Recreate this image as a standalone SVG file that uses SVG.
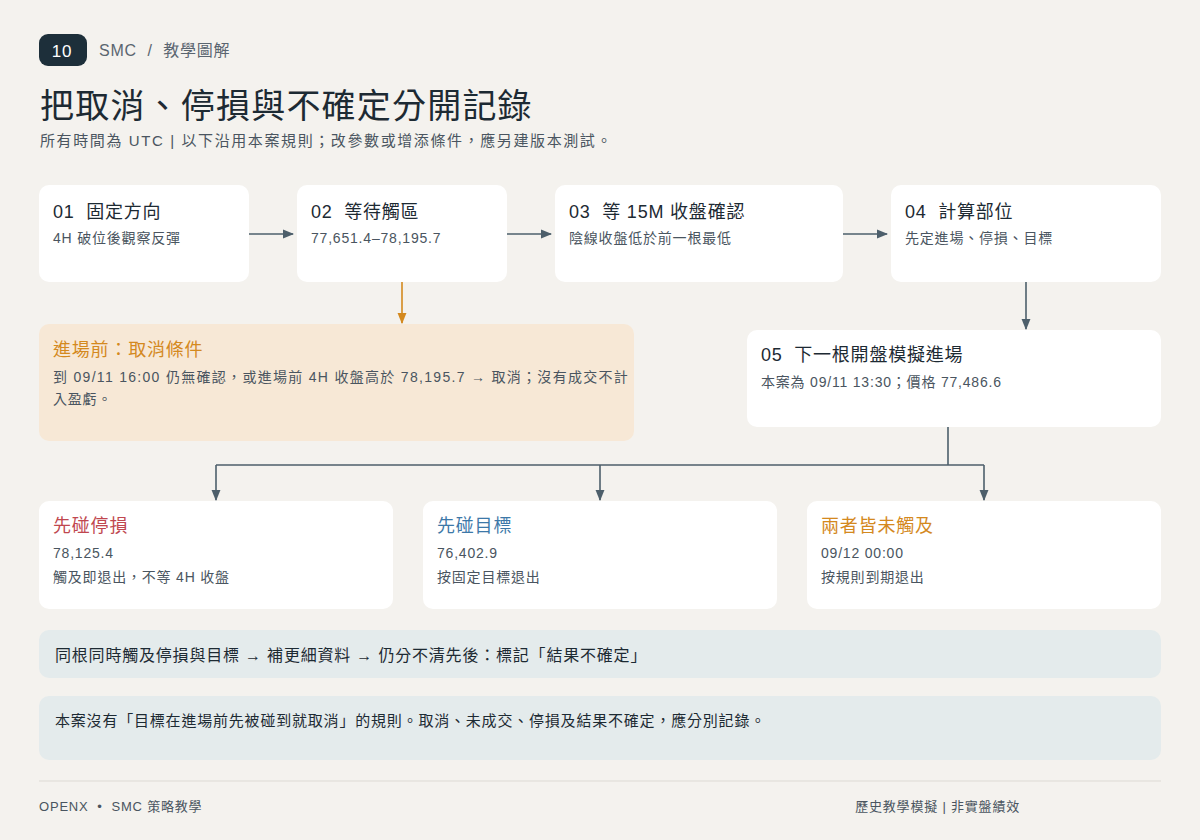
<svg xmlns="http://www.w3.org/2000/svg" width="1200" height="840" viewBox="0 0 1200 840">
<style>
text{font-family:"Liberation Sans","Noto Sans CJK TC",sans-serif;white-space:pre;letter-spacing:0.8px}
.card{fill:#fff}
.t{font-size:18px;fill:#1d2a33}
.s{font-size:14px;fill:#4a5560}
.c{stroke:#4d5f6b;stroke-width:1.6;fill:none}
</style>
<defs>
<marker id="a" viewBox="0 0 10 10" refX="9" refY="5" markerWidth="7" markerHeight="7" orient="auto"><path d="M0,1 L10,5 L0,9 z" fill="#4d5f6b"/></marker>
<marker id="ao" viewBox="0 0 10 10" refX="9" refY="5" markerWidth="7" markerHeight="7" orient="auto"><path d="M0,1 L10,5 L0,9 z" fill="#d4891e"/></marker>
</defs>
<rect width="1200" height="840" fill="#f4f2ee"/>
<g id="header">
<rect x="39" y="34" width="48" height="32" rx="9" fill="#1d2f3a"/>
<text x="62" y="57" font-size="17" fill="#fff" text-anchor="middle">10</text>
<text x="99" y="56" font-size="16" fill="#5a6570">SMC  /  教學圖解</text>
<text x="40" y="118" font-size="34" fill="#1d2a33" style="letter-spacing:1.2px">把取消、停損與不確定分開記錄</text>
<text x="40" y="146" font-size="15" fill="#4a5560" style="letter-spacing:1.6px">所有時間為 UTC | 以下沿用本案規則；改參數或增添條件，應另建版本測試。</text>
</g>
<g id="n1"><rect class="card" x="39" y="185" width="210" height="97" rx="10"/><text class="t" x="53" y="218">01  固定方向</text><text class="s" x="53" y="243">4H 破位後觀察反彈</text></g>
<g id="n2"><rect class="card" x="297" y="185" width="210" height="97" rx="10"/><text class="t" x="311" y="218">02  等待觸區</text><text class="s" x="311" y="243">77,651.4–78,195.7</text></g>
<g id="n3"><rect class="card" x="555" y="185" width="288" height="97" rx="10"/><text class="t" x="569" y="218">03  等 15M 收盤確認</text><text class="s" x="569" y="243">陰線收盤低於前一根最低</text></g>
<g id="n4"><rect class="card" x="891" y="185" width="270" height="97" rx="10"/><text class="t" x="905" y="218">04  計算部位</text><text class="s" x="905" y="243">先定進場、停損、目標</text></g>
<g id="cancel"><rect x="39" y="324" width="595" height="117" rx="10" fill="#f7e8d6"/><text x="53" y="356" font-size="18" fill="#d4891e">進場前：取消條件</text><text class="s" x="53" y="382" style="letter-spacing:1.3px">到 09/11 16:00 仍無確認，或進場前 4H 收盤高於 78,195.7 → 取消；沒有成交不計</text><text class="s" x="53" y="404">入盈虧。</text></g>
<g id="n5"><rect class="card" x="747" y="330" width="414" height="97" rx="10"/><text class="t" x="761" y="361">05  下一根開盤模擬進場</text><text class="s" x="761" y="387">本案為 09/11 13:30；價格 77,486.6</text></g>
<g id="r1"><rect class="card" x="39" y="501" width="354" height="108" rx="10"/><text x="53" y="532" font-size="18" fill="#c0474f">先碰停損</text><text class="s" x="53" y="558">78,125.4</text><text class="s" x="53" y="582">觸及即退出，不等 4H 收盤</text></g>
<g id="r2"><rect class="card" x="423" y="501" width="354" height="108" rx="10"/><text x="437" y="532" font-size="18" fill="#3d78a8">先碰目標</text><text class="s" x="437" y="558">76,402.9</text><text class="s" x="437" y="582">按固定目標退出</text></g>
<g id="r3"><rect class="card" x="807" y="501" width="354" height="108" rx="10"/><text x="821" y="532" font-size="18" fill="#d4891e">兩者皆未觸及</text><text class="s" x="821" y="558">09/12 00:00</text><text class="s" x="821" y="582">按規則到期退出</text></g>
<g id="note1"><rect x="39" y="630" width="1122" height="48" rx="10" fill="#e4ebec"/><text x="55" y="661" font-size="16" fill="#1d2a33">同根同時觸及停損與目標 → 補更細資料 → 仍分不清先後：標記「結果不確定」</text></g>
<g id="note2"><rect x="39" y="696" width="1122" height="64" rx="10" fill="#e4ebec"/><text x="55" y="726" font-size="15" fill="#1d2a33">本案沒有「目標在進場前先被碰到就取消」的規則。取消、未成交、停損及結果不確定，應分別記錄。</text></g>
<g id="footer">
<line x1="39" y1="781" x2="1161" y2="781" stroke="#dddad4"/>
<text x="39" y="811" font-size="13" fill="#4a5560">OPENX  •  SMC 策略教學</text>
<text x="1020" y="811" font-size="13" fill="#4a5560" text-anchor="end">歷史教學模擬 | 非實盤績效</text>
</g>
<g id="connectors">
<line class="c" x1="249" y1="234" x2="293" y2="234" marker-end="url(#a)"/>
<line class="c" x1="507" y1="234" x2="551" y2="234" marker-end="url(#a)"/>
<line class="c" x1="843" y1="234" x2="887" y2="234" marker-end="url(#a)"/>
<line x1="402" y1="282" x2="402" y2="323" stroke="#d4891e" stroke-width="1.6" marker-end="url(#ao)"/>
<line class="c" x1="1026" y1="282" x2="1026" y2="329" marker-end="url(#a)"/>
<path class="c" d="M948,427 V465 M216,465 H984"/>
<line class="c" x1="216" y1="465" x2="216" y2="500" marker-end="url(#a)"/>
<line class="c" x1="600" y1="465" x2="600" y2="500" marker-end="url(#a)"/>
<line class="c" x1="984" y1="465" x2="984" y2="500" marker-end="url(#a)"/>
</g>
</svg>
